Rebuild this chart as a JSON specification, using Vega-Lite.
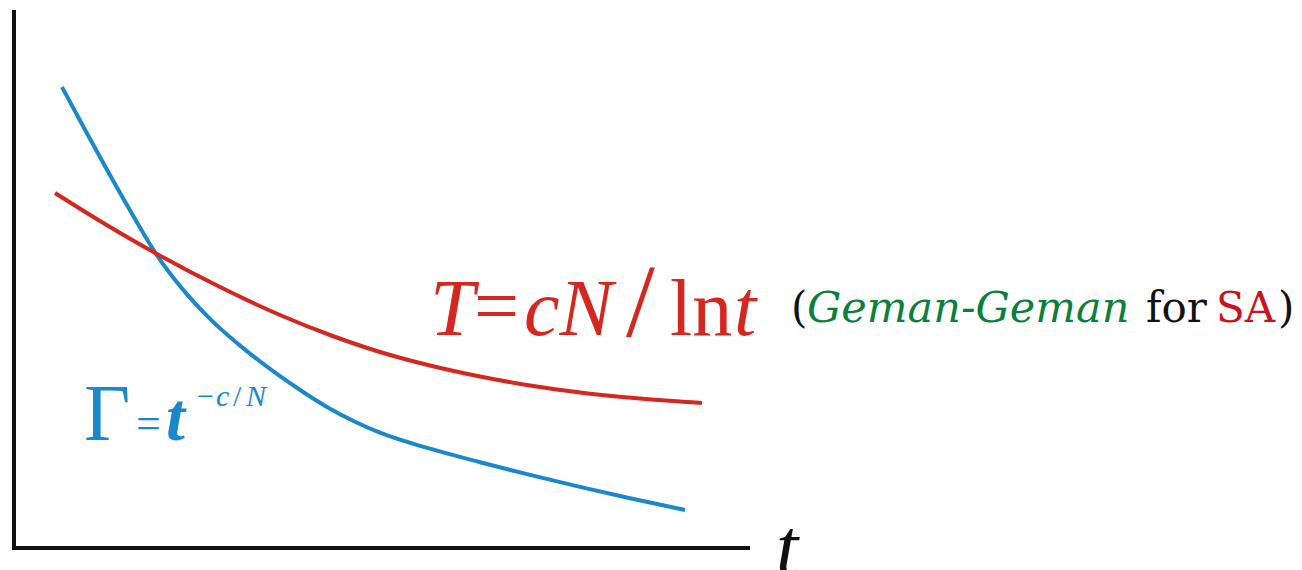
{
  "$schema": "https://vega.github.io/schema/vega-lite/v6.json",
  "width": 1302,
  "height": 570,
  "autosize": {"type": "none"},
  "padding": 0,
  "background": "white",
  "config": {"view": {"stroke": null}, "text": {"align": "left", "baseline": "alphabetic"}},
  "datasets": {
    "curves": [
      {"ink": "Gamma", "t": 0.48, "v": 4.61},
      {"ink": "Gamma", "t": 0.71, "v": 4.182},
      {"ink": "Gamma", "t": 0.93, "v": 3.782},
      {"ink": "Gamma", "t": 1.18, "v": 3.342},
      {"ink": "Gamma", "t": 1.43, "v": 2.927},
      {"ink": "Gamma", "t": 1.69, "v": 2.584},
      {"ink": "Gamma", "t": 1.96, "v": 2.292},
      {"ink": "Gamma", "t": 2.31, "v": 1.984},
      {"ink": "Gamma", "t": 2.66, "v": 1.718},
      {"ink": "Gamma", "t": 2.91, "v": 1.548},
      {"ink": "Gamma", "t": 3.16, "v": 1.393},
      {"ink": "Gamma", "t": 3.41, "v": 1.263},
      {"ink": "Gamma", "t": 3.66, "v": 1.153},
      {"ink": "Gamma", "t": 4.16, "v": 0.993},
      {"ink": "Gamma", "t": 4.66, "v": 0.858},
      {"ink": "Gamma", "t": 5.16, "v": 0.731},
      {"ink": "Gamma", "t": 5.66, "v": 0.611},
      {"ink": "Gamma", "t": 6.16, "v": 0.498},
      {"ink": "Gamma", "t": 6.71, "v": 0.38},
      {"ink": "T", "t": 0.41, "v": 3.55},
      {"ink": "T", "t": 0.86, "v": 3.27},
      {"ink": "T", "t": 1.43, "v": 2.94},
      {"ink": "T", "t": 2.06, "v": 2.61},
      {"ink": "T", "t": 2.66, "v": 2.33},
      {"ink": "T", "t": 3.16, "v": 2.13},
      {"ink": "T", "t": 3.66, "v": 1.96},
      {"ink": "T", "t": 4.16, "v": 1.825},
      {"ink": "T", "t": 4.66, "v": 1.715},
      {"ink": "T", "t": 5.16, "v": 1.625},
      {"ink": "T", "t": 5.66, "v": 1.555},
      {"ink": "T", "t": 6.26, "v": 1.495},
      {"ink": "T", "t": 6.88, "v": 1.45}
    ],
    "axes": [
      {"t": 0, "v": 0, "t2": 0, "v2": 5.36},
      {"t": 0, "v": 0, "t2": 7.34, "v2": 0}
    ],
    "labels": [
      {"label": "T", "t": 4.16, "v": 2.13, "style": "italic", "role": "formula", "ink": "T"},
      {"label": "=", "t": 4.60, "v": 2.15, "style": "roman", "role": "formula", "ink": "T"},
      {"label": "cN", "t": 5.10, "v": 2.13, "style": "italic", "role": "formula", "ink": "T"},
      {"label": "/", "t": 6.12, "v": 2.12, "style": "roman", "role": "formulaSlash", "ink": "T"},
      {"label": "ln", "t": 6.56, "v": 2.13, "style": "roman", "role": "formula", "ink": "T"},
      {"label": "t", "t": 7.20, "v": 2.13, "style": "italic", "role": "formula", "ink": "T"},
      {"label": "Γ", "t": 0.70, "v": 1.08, "style": "roman", "role": "gamma", "ink": "Gamma"},
      {"label": "=", "t": 1.22, "v": 1.10, "style": "roman", "role": "gammaEq", "ink": "Gamma"},
      {"label": "t", "t": 1.52, "v": 1.08, "style": "italic", "role": "gamma", "ink": "Gamma"},
      {"label": "−", "t": 1.83, "v": 1.42, "style": "roman", "role": "exponent", "ink": "Gamma"},
      {"label": "c", "t": 2.02, "v": 1.42, "style": "italic", "role": "exponent", "ink": "Gamma"},
      {"label": "/", "t": 2.19, "v": 1.42, "style": "roman", "role": "exponent", "ink": "Gamma"},
      {"label": "N", "t": 2.32, "v": 1.42, "style": "italic", "role": "exponent", "ink": "Gamma"},
      {"label": "t", "t": 7.62, "v": -0.26, "style": "italic", "role": "axisName", "ink": "plain"},
      {"label": "(", "t": 7.77, "v": 2.26, "style": "roman", "role": "note", "ink": "plain"},
      {"label": "Geman-Geman", "t": 7.93, "v": 2.26, "style": "italic", "role": "note", "ink": "Geman"},
      {"label": "for", "t": 11.32, "v": 2.26, "style": "roman", "role": "note", "ink": "plain"},
      {"label": "SA", "t": 12.02, "v": 2.26, "style": "roman", "role": "note", "ink": "SA"},
      {"label": ")", "t": 12.64, "v": 2.26, "style": "roman", "role": "note", "ink": "plain"}
    ]
  },
  "encoding": {
    "x": {"field": "t", "type": "quantitative", "axis": null,
          "scale": {"domain": [-0.14, 12.88], "nice": false, "zero": false}},
    "y": {"field": "v", "type": "quantitative", "axis": null,
          "scale": {"domain": [-0.22, 5.48], "nice": false, "zero": false}},
    "color": {"field": "ink", "type": "nominal", "legend": null,
              "scale": {"domain": ["Gamma", "T", "Geman", "SA", "plain"],
                        "range": ["#1b88ca", "#d3271f", "#0b7f3b", "#c8141e", "#111111"]}}
  },
  "layer": [
    {
      "data": {"name": "axes"},
      "mark": {"type": "rule", "strokeWidth": 4, "strokeCap": "square"},
      "encoding": {
        "color": {"value": "#111111"},
        "x2": {"field": "t2"},
        "y2": {"field": "v2"}
      }
    },
    {
      "data": {"name": "curves"},
      "mark": {"type": "line", "strokeWidth": 4, "interpolate": "monotone", "strokeCap": "butt"},
      "encoding": {}
    },
    {
      "data": {"name": "labels"},
      "transform": [{"filter": "datum.role === 'formula' && datum.style === 'italic'"}],
      "mark": {"type": "text", "font": "Liberation Serif", "fontStyle": "italic", "fontSize": 80},
      "encoding": {"text": {"field": "label"}}
    },
    {
      "data": {"name": "labels"},
      "transform": [{"filter": "datum.role === 'formula' && datum.style === 'roman'"}],
      "mark": {"type": "text", "font": "Liberation Serif", "fontSize": 80},
      "encoding": {"text": {"field": "label"}}
    },
    {
      "data": {"name": "labels"},
      "transform": [{"filter": "datum.role === 'formulaSlash'"}],
      "mark": {"type": "text", "font": "Liberation Serif", "fontSize": 104},
      "encoding": {"text": {"field": "label"}}
    },
    {
      "data": {"name": "labels"},
      "transform": [{"filter": "datum.role === 'gamma' && datum.style === 'roman'"}],
      "mark": {"type": "text", "font": "Liberation Serif", "fontSize": 80},
      "encoding": {"text": {"field": "label"}}
    },
    {
      "data": {"name": "labels"},
      "transform": [{"filter": "datum.role === 'gamma' && datum.style === 'italic'"}],
      "mark": {"type": "text", "font": "Liberation Serif", "fontStyle": "italic", "fontWeight": "bold", "fontSize": 68},
      "encoding": {"text": {"field": "label"}}
    },
    {
      "data": {"name": "labels"},
      "transform": [{"filter": "datum.role === 'gammaEq'"}],
      "mark": {"type": "text", "font": "Liberation Serif", "fontSize": 44},
      "encoding": {"text": {"field": "label"}}
    },
    {
      "data": {"name": "labels"},
      "transform": [{"filter": "datum.role === 'exponent' && datum.style === 'italic'"}],
      "mark": {"type": "text", "font": "Liberation Serif", "fontStyle": "italic", "fontSize": 30},
      "encoding": {"text": {"field": "label"}}
    },
    {
      "data": {"name": "labels"},
      "transform": [{"filter": "datum.role === 'exponent' && datum.style === 'roman'"}],
      "mark": {"type": "text", "font": "Liberation Serif", "fontSize": 30},
      "encoding": {"text": {"field": "label"}}
    },
    {
      "data": {"name": "labels"},
      "transform": [{"filter": "datum.role === 'axisName'"}],
      "mark": {"type": "text", "font": "Liberation Serif", "fontStyle": "italic", "fontSize": 80},
      "encoding": {"text": {"field": "label"}}
    },
    {
      "data": {"name": "labels"},
      "transform": [{"filter": "datum.role === 'note' && datum.style === 'italic'"}],
      "mark": {"type": "text", "font": "DejaVu Serif", "fontStyle": "italic", "fontSize": 43},
      "encoding": {"text": {"field": "label"}}
    },
    {
      "data": {"name": "labels"},
      "transform": [{"filter": "datum.role === 'note' && datum.style === 'roman'"}],
      "mark": {"type": "text", "font": "DejaVu Serif", "fontSize": 42},
      "encoding": {"text": {"field": "label"}}
    }
  ]
}
